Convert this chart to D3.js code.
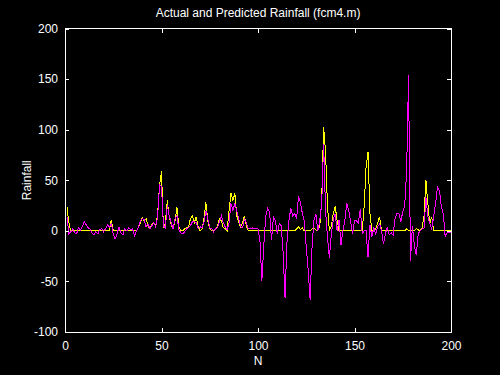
<!DOCTYPE html>
<html>
<head>
<meta charset="utf-8">
<script src="https://cdn.jsdelivr.net/npm/d3@7"></script>
<style>
    body { margin: 0; background: black; }
</style>
</head>
<body>
<div id="chart"></div>
<script>
// actual rainfall, N = 1..200
const actual = [
    24, 8, 0, 0, 0, 0, 0, 0, 0, 0,
    0, 0, 0, 0, 0, 0, 0, 0, 0, 0,
    0, 0, 0, 11, 0, 0, 0, 0, 0, 0,
    0, 0, 0, 0, 0, 0, 0, 3, 8, 13,
    10, 12, 5, 2, 6, 8, 5, 17, 45, 59,
    3, 8, 30, 14, 6, 2, 10, 23, 4, 0,
    0, 2, 3, 4, 12, 15, 8, 14, 4, 0,
    2, 12, 28, 10, 2, 0, 0, 1, 5, 12,
    10, 3, 2, 0, 20, 37, 30, 37, 15, 8,
    4, 8, 15, 4, 0, 0, 0, 0, 0, 0,
    0, 0, 0, 0, 0, 0, 0, 0, 0, 0,
    0, 0, 0, 0, 0, 0, 0, 0, 0, 2,
    4, 1, 3, 0, 0, 0, 0, 2, 3, 1,
    0, 5, 30, 103, 78, 25, 0, 5, 17, 24,
    10, 0, 0, 0, 0, 0, 0, 0, 0, 0,
    0, 0, 0, 0, 24, 63, 78, 17, 0, 0,
    2, 8, 14, 0, 0, 0, 0, 0, 0, 0,
    0, 0, 0, 0, 0, 0, 2, 0, 0, 0,
    0, 2, 1, 0, 3, 14, 50, 27, 7, 14,
    0, 0, 0, 0, 0, 0, 0, 0, 0, 0
]

// predicted rainfall, N = 1..200
const predicted = [
    14, -3, -1, 2, -2, -3, 3, 1, 4, 9,
    6, 3, 2, -2, -4, -1, -3, 1, 2, -1,
    2, 6, 4, 7, -3, -8, -3, 4, -2, -4,
    2, 0, 3, 1, 2, -5, 0, 3, 10, 12,
    11, 4, 7, 2, 5, 8, 4, 14, 46, 44,
    5, 3, 25, 15, 8, 2, 12, 15, 1, -2,
    -3, -1, 2, 3, 5, 9, 9, 8, 2, 4,
    3, 8, 20, 12, 3, 2, -1, 2, 3, 9,
    15, 8, 4, 1, 8, 27, 20, 27, 20, 12,
    4, 3, 12, 8, 2, 2, 3, 2, 2, 2,
    -9, -50, -14, 14, 22, 19, -9, 14, 10, -3,
    7, 5, -21, -66, -12, 10, 22, 15, 17, 12,
    34, 28, 17, 10, -16, -39, -68, -16, 11, 16,
    0, 10, 27, 86, 20, -6, -27, -3, 11, 17,
    0, 11, -14, 0, 10, 27, 20, 9, -3, 10,
    10, 8, 22, -3, 0, 0, -26, 6, -6, 3,
    -3, 4, 7, 0, -13, -3, 4, -4, -2, -4,
    12, 17, 17, 9, 19, 25, 58, 154, -30, 5,
    -14, -24, -3, 0, 2, 2, 33, 14, 7, 2,
    14, 27, 43, 40, 24, 17, -6, -2, -2, -1
]

const xTicks = [0, 50, 100, 150, 200]
const yTicks = [-100, -50, 0, 50, 100, 150, 200]

const width = 500
const height = 375
const box = { left: 65, right: 451, top: 28.5, bottom: 332 }
const font = 'Liberation Sans, Arial, sans-serif'

const svg = d3.select('#chart').append('svg')
    .attr('width', width)
    .attr('height', height)
    .style('background', 'black')

const x = d3.scaleLinear().domain([0, 200]).range([box.left, box.right])
const y = d3.scaleLinear().domain([-100, 200]).range([box.bottom, box.top])

const line = d3.line()
    .x((d, i) => x(i + 1))
    .y(d => y(d))

// actual first, predicted drawn on top
svg.append('path')
    .datum(actual)
    .attr('d', line)
    .attr('fill', 'none')
    .attr('stroke', '#ffff00')
    .attr('stroke-width', 1)
    .attr('shape-rendering', 'crispEdges')

svg.append('path')
    .datum(predicted)
    .attr('d', line)
    .attr('fill', 'none')
    .attr('stroke', '#ff00ff')
    .attr('stroke-width', 1)
    .attr('shape-rendering', 'crispEdges')

// box
svg.append('rect')
    .attr('x', box.left)
    .attr('y', box.top)
    .attr('width', box.right - box.left)
    .attr('height', box.bottom - box.top)
    .attr('fill', 'none')
    .attr('stroke', 'white')
    .attr('shape-rendering', 'crispEdges')

// axes with inward ticks on all four sides, plain hyphen minus in labels
const styleAxis = g => {
    g.select('.domain').remove()
    g.selectAll('line').attr('stroke', 'white').attr('shape-rendering', 'crispEdges')
    g.selectAll('text').attr('fill', 'white')
        .attr('font-family', font).attr('font-size', 12)
}
const fmt = d => String(d)

svg.append('g')
    .attr('transform', `translate(0, ${box.bottom})`)
    .call(d3.axisBottom(x).tickValues(xTicks).tickSizeInner(-4).tickPadding(9).tickFormat(fmt))
    .call(styleAxis)

svg.append('g')
    .attr('transform', `translate(0, ${box.top})`)
    .call(d3.axisTop(x).tickValues(xTicks).tickSizeInner(-4).tickFormat(''))
    .call(styleAxis)

svg.append('g')
    .attr('transform', `translate(${box.left}, 0)`)
    .call(d3.axisLeft(y).tickValues(yTicks).tickSizeInner(-4).tickPadding(7).tickFormat(fmt))
    .call(styleAxis)

svg.append('g')
    .attr('transform', `translate(${box.right}, 0)`)
    .call(d3.axisRight(y).tickValues(yTicks).tickSizeInner(-4).tickFormat(''))
    .call(styleAxis)

// labels
svg.append('text')
    .text('Actual and Predicted Rainfall (fcm4.m)')
    .attr('x', (box.left + box.right) / 2)
    .attr('y', 17)
    .attr('text-anchor', 'middle')
    .attr('fill', 'white')
    .attr('font-family', font)
    .attr('font-size', 12)

svg.append('text')
    .text('N')
    .attr('x', (box.left + box.right) / 2)
    .attr('y', 365)
    .attr('text-anchor', 'middle')
    .attr('fill', 'white')
    .attr('font-family', font)
    .attr('font-size', 12)

svg.append('text')
    .text('Rainfall')
    .attr('transform', `translate(31, ${(box.top + box.bottom) / 2}) rotate(-90)`)
    .attr('text-anchor', 'middle')
    .attr('fill', 'white')
    .attr('font-family', font)
    .attr('font-size', 12)
</script>
</body>
</html>
